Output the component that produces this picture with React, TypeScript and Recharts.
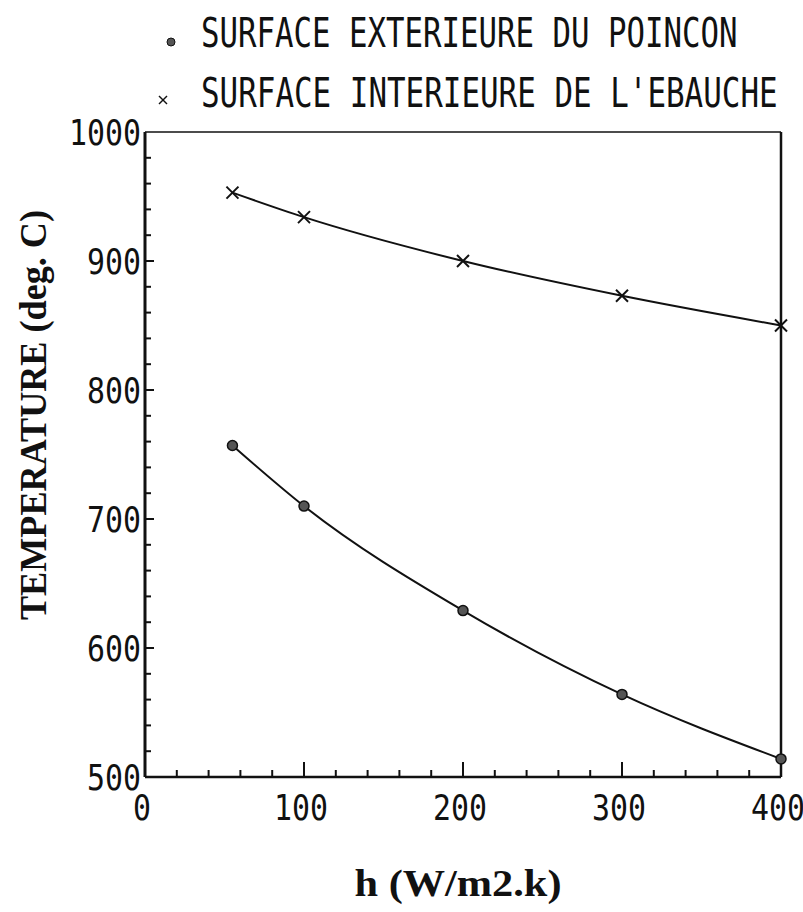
import { LineChart, Line, XAxis, YAxis, ReferenceLine } from 'recharts';

const H_VALUES = [55, 100, 200, 300, 400];
const OUTER_PUNCH = [757, 710, 629, 564, 514];
const INNER_BLANK = [953, 934, 900, 873, 850];

const X_TICKS = [0, 20, 40, 60, 80, 100, 120, 140, 160, 180, 200, 220, 240, 260, 280, 300, 320, 340, 360, 380, 400];
const Y_TICKS = [500, 520, 540, 560, 580, 600, 620, 640, 660, 680, 700, 720, 740, 760, 780, 800, 820, 840, 860, 880, 900, 920, 940, 960, 980, 1000];

const LEGEND_OUTER = 'SURFACE EXTERIEURE DU POINCON';
const LEGEND_INNER = "SURFACE INTERIEURE DE L'EBAUCHE";
const X_TITLE = 'h (W/m2.k)';
const Y_TITLE = 'TEMPERATURE (deg. C)';

const data = H_VALUES.map((h, i) => ({ h, outer: OUTER_PUNCH[i], inner: INNER_BLANK[i] }));

const MONO = '"DejaVu Sans Mono", monospace';
const SERIF = '"Liberation Serif", serif';
const INK = '#111';

function XTick({ x, y, payload }: any) {
  const v = payload.value;
  const major = v % 100 === 0;
  const s = String(v);
  return (
    <g>
      {v > 0 && v < 400 && <line x1={x} x2={x} y1={y} y2={y - (major ? 15 : 7)} stroke={INK} strokeWidth={2} />}
      {major && (
        <text x={x - 3} y={y + 43} textAnchor="middle" fontFamily={MONO} fontSize={36} fill={INK}
          textLength={18 * s.length} lengthAdjust="spacingAndGlyphs">{s}</text>
      )}
    </g>
  );
}

function YTick({ x, y, payload }: any) {
  const v = payload.value;
  const major = v % 100 === 0;
  const s = String(v);
  return (
    <g>
      {v > 500 && v < 1000 && <line x1={x} x2={x + (major ? 9 : 6)} y1={y} y2={y} stroke={INK} strokeWidth={2} />}
      {major && (
        <text x={x - 4} y={y + 13} textAnchor="end" fontFamily={MONO} fontSize={36} fill={INK}
          textLength={18 * s.length} lengthAdjust="spacingAndGlyphs">{s}</text>
      )}
    </g>
  );
}

function DotMark({ cx, cy }: any) {
  return <circle cx={cx} cy={cy} r={5} fill="#555" stroke={INK} strokeWidth={1.5} />;
}

function CrossMark({ cx, cy }: any) {
  return (
    <g stroke={INK} strokeWidth={2}>
      <line x1={cx - 6} y1={cy - 6} x2={cx + 6} y2={cy + 6} />
      <line x1={cx - 6} y1={cy + 6} x2={cx + 6} y2={cy - 6} />
    </g>
  );
}

export default function App() {
  return (
    <div style={{ position: 'relative', width: 803, height: 912, background: '#fff' }}>
      <style>{'body { margin: 0; }'}</style>
      <LineChart width={803} height={912} data={data} margin={{ top: 132, right: 22, bottom: 0, left: 0 }}>
        <XAxis dataKey="h" type="number" domain={[0, 400]} ticks={X_TICKS} interval={0} height={135}
          tickSize={0} tickMargin={0} tickLine={false} axisLine={{ stroke: INK, strokeWidth: 2.5 }} tick={<XTick />} />
        <YAxis type="number" domain={[500, 1000]} ticks={Y_TICKS} interval={0} width={145}
          tickSize={0} tickMargin={0} tickLine={false} axisLine={{ stroke: INK, strokeWidth: 3 }} tick={<YTick />} />
        <ReferenceLine y={1000} stroke={INK} strokeWidth={1.5} />
        <ReferenceLine x={400} stroke={INK} strokeWidth={2.5} />
        <Line type="monotone" dataKey="inner" stroke={INK} strokeWidth={2} dot={<CrossMark />} isAnimationActive={false} />
        <Line type="monotone" dataKey="outer" stroke={INK} strokeWidth={2} dot={<DotMark />} isAnimationActive={false} />
      </LineChart>
      <svg width={803} height={912} style={{ position: 'absolute', left: 0, top: 0, pointerEvents: 'none' }}>
        <circle cx={171} cy={42} r={4} fill="#555" stroke={INK} strokeWidth={1} />
        <text x={201} y={47} fontFamily={MONO} fontSize={40} fill={INK}
          textLength={LEGEND_OUTER.length * 18.5} lengthAdjust="spacingAndGlyphs">{LEGEND_OUTER}</text>
        <g stroke={INK} strokeWidth={1.5}>
          <line x1={159} y1={96} x2={167} y2={104} />
          <line x1={159} y1={104} x2={167} y2={96} />
        </g>
        <text x={201} y={107} fontFamily={MONO} fontSize={40} fill={INK}
          textLength={LEGEND_INNER.length * 18.6} lengthAdjust="spacingAndGlyphs">{LEGEND_INNER}</text>
        <text x={458} y={896} textAnchor="middle" fontFamily={SERIF} fontWeight="bold" fontSize={38} fill={INK}
          textLength={207} lengthAdjust="spacingAndGlyphs">{X_TITLE}</text>
        <text transform="translate(46, 415) rotate(-90)" textAnchor="middle" fontFamily={SERIF} fontWeight="bold"
          fontSize={38} fill={INK} textLength={410} lengthAdjust="spacingAndGlyphs">{Y_TITLE}</text>
      </svg>
    </div>
  );
}
